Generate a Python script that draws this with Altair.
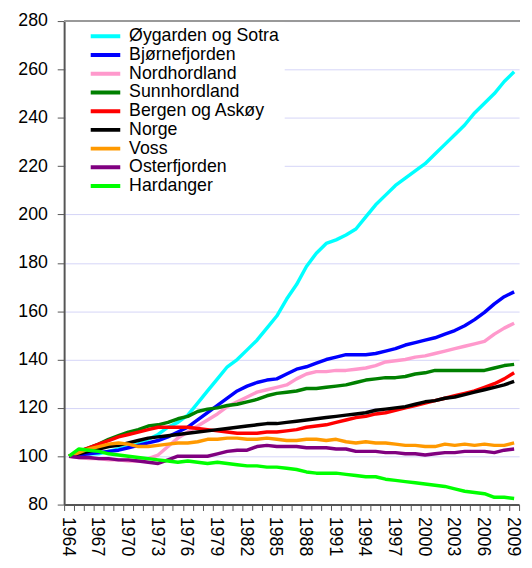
import altair as alt
import pandas as pd

years = list(range(1964, 2010))

series_names = [
    "Øygarden og Sotra", "Bjørnefjorden", "Nordhordland", "Sunnhordland",
    "Bergen og Askøy", "Norge", "Voss", "Osterfjorden", "Hardanger",
]
series_colors = [
    "#00FFFF", "#0000FF", "#FF99CC", "#008000",
    "#FF0000", "#000000", "#FF9900", "#800080", "#00FF00",
]

oygarden = [100, 101, 101, 101, 102, 103, 104, 105, 107, 109,
            112, 114, 117, 122, 127, 132, 137, 140, 144, 148,
            153, 158, 165, 171, 178.5, 184, 188, 189.5, 191.5, 194,
            199, 204, 208, 212, 215, 218, 221, 225, 229, 233,
            237, 242, 246, 250, 255, 259]
bjornefjorden = [100, 100.5, 101, 101.5, 102, 102.5, 103.5, 104.5, 105.5, 106.5,
                 108, 110, 112, 115, 118, 121, 124, 127, 129, 130.5,
                 131.5, 132, 134, 136, 137, 138.5, 140, 141, 142, 142,
                 142, 142.5, 143.5, 144.5, 146, 147, 148, 149, 150.5, 152,
                 154, 156.5, 159.5, 163, 166, 168]
nordhordland = [100, 99.5, 99, 99, 98.5, 98.5, 98, 98, 99, 100.5,
                104, 107.5, 110, 112.5, 115, 117.5, 120.5, 122.5, 124.5, 126.5,
                127.5, 128.5, 129.5, 132, 134, 135, 135, 135.5, 135.5, 136,
                136.5, 137.5, 139, 139.5, 140, 141, 141.5, 142.5, 143.5, 144.5,
                145.5, 146.5, 147.5, 150.5, 153, 155]
sunnhordland = [100, 102, 103.5, 105, 107, 108.5, 110, 111, 112.5, 113,
                114, 115.5, 116.5, 118.5, 119.5, 120, 121, 121.5, 122.5, 123.5,
                125, 126, 126.5, 127, 128, 128, 128.5, 129, 129.5, 130.5,
                131.5, 132, 132.5, 132.5, 133, 134, 134.5, 135.5, 135.5, 135.5,
                135.5, 135.5, 135.5, 136.5, 137.5, 138]
bergen = [100, 102, 103.5, 105, 106.5, 108, 109, 110, 111, 112,
          112, 112, 112, 111.5, 111, 110.5, 110, 109.5, 109.5, 109.5,
          110, 110, 110.5, 111, 112, 112.5, 113, 114, 115, 116,
          116.5, 117.5, 118, 119, 120, 121, 122, 123, 124, 125,
          126, 127, 128.5, 130, 132, 134.5]
norge = [100, 101, 102, 103, 104, 104.5, 105.5, 106.5, 107.5, 108,
         108.5, 109, 109.5, 110, 110.5, 111, 111.5, 112, 112.5, 113,
         113.5, 113.5, 114, 114.5, 115, 115.5, 116, 116.5, 117, 117.5,
         118, 119, 119.5, 120, 120.5, 121.5, 122.5, 123, 124, 124.5,
         125.5, 126.5, 127.5, 128.5, 129.5, 131]
voss = [100, 101.5, 103, 104, 105, 105.5, 105, 104, 104, 104.5,
        105, 105.5, 105.5, 106, 107, 107, 107.5, 107.5, 107, 107,
        107.5, 107, 106.5, 106.5, 107, 107, 106.5, 107, 106, 105.5,
        106, 105.5, 105.5, 105, 104.5, 104.5, 104, 104, 105, 104.5,
        105, 104.5, 105, 104.5, 104.5, 105.5]
osterfjorden = [100, 99.5, 99.5, 99, 99, 98.5, 98.5, 98, 97.5, 97,
                98.5, 100, 100, 100, 100, 101, 102, 102.5, 102.5, 104,
                104.5, 104, 104, 104, 103.5, 103.5, 103.5, 103, 103, 102,
                102, 102, 101.5, 101.5, 101, 101, 100.5, 101, 101.5, 101.5,
                102, 102, 102, 101.5, 102.5, 103]
hardanger = [100, 103, 102.5, 102, 101, 100.5, 100, 99.5, 99, 98.5,
             98, 97.5, 98, 97.5, 97, 97.5, 97, 96.5, 96, 96,
             95.5, 95.5, 95, 94.5, 93.5, 93, 93, 93, 92.5, 92,
             91.5, 91.5, 90.5, 90, 89.5, 89, 88.5, 88, 87.5, 86.5,
             85.5, 85, 84.5, 83, 83, 82.5]

y_ticks = [80, 100, 120, 140, 160, 180, 200, 220, 240, 260, 280]
x_label_years = [1964, 1967, 1970, 1973, 1976, 1979, 1982, 1985,
                 1988, 1991, 1994, 1997, 2000, 2003, 2006, 2009]

all_values = [oygarden, bjornefjorden, nordhordland, sunnhordland,
              bergen, norge, voss, osterfjorden, hardanger]

rows = []
for name, vals in zip(series_names, all_values):
    for yr, v in zip(years, vals):
        rows.append({"Region": name, "year": yr, "value": v})
df = pd.DataFrame(rows)

boundaries = [y - 0.5 for y in years] + [years[-1] + 0.5]
label_list = ",".join(str(v) for v in x_label_years)
label_expr = (
    f"indexof([{label_list}], datum.value + 0.5) >= 0 ? "
    "toString(datum.value + 0.5) : ''"
)

FONT = "Liberation Sans"
W, H = 462, 491
PAD = {"left": 57, "top": 9, "right": 5, "bottom": 52}

lines = alt.Chart(df).mark_line(strokeWidth=3.5, strokeJoin="round").encode(
    x=alt.X(
        "year:Q",
        scale=alt.Scale(domain=[1963.5, 2009.5], nice=False, zero=False),
        axis=alt.Axis(
            title=None, values=boundaries, labelExpr=label_expr,
            labelAngle=90, labelOffset=3, labelFlush=False, labelOverlap=False,
            labelFontSize=18, labelFont=FONT, labelColor="black",
            labelPadding=6, tickSize=6, tickColor="#555555",
            domainColor="#555555", domainWidth=2, grid=False,
        ),
    ),
    y=alt.Y(
        "value:Q",
        scale=alt.Scale(domain=[80, 280], nice=False, zero=False),
        axis=alt.Axis(
            title=None, values=y_ticks, labelFontSize=18, labelFont=FONT,
            labelColor="black", labelPadding=10, tickSize=7,
            tickColor="#555555", domainColor="#555555", domainWidth=2,
            grid=True, gridColor="#d4d4f7", gridWidth=1,
        ),
    ),
    color=alt.Color(
        "Region:N",
        scale=alt.Scale(domain=series_names, range=series_colors),
        legend=alt.Legend(
            title=None, orient="none", legendX=2, legendY=1,
            symbolType="M-3,0H3", symbolSize=100, symbolStrokeWidth=4,
            symbolFillColor="transparent",
            labelFontSize=18, labelFont=FONT, labelColor="black",
            labelLimit=400, labelOffset=15, symbolOffset=26,
            clipHeight=19, rowPadding=0,
            padding=5, fillColor="white",
        ),
    ),
)

top_border = alt.Chart(df).mark_rule(color="#999999", strokeWidth=2).encode(
    x=alt.value(0), x2=alt.value(W), y=alt.value(0)
)

chart = alt.layer(lines, top_border).properties(
    width=W, height=H,
    padding=PAD,
    autosize=alt.AutoSizeParams(type="none"),
).configure_view(stroke=None)

chart.save("out.html", embed_options={"renderer": "svg", "actions": False})
